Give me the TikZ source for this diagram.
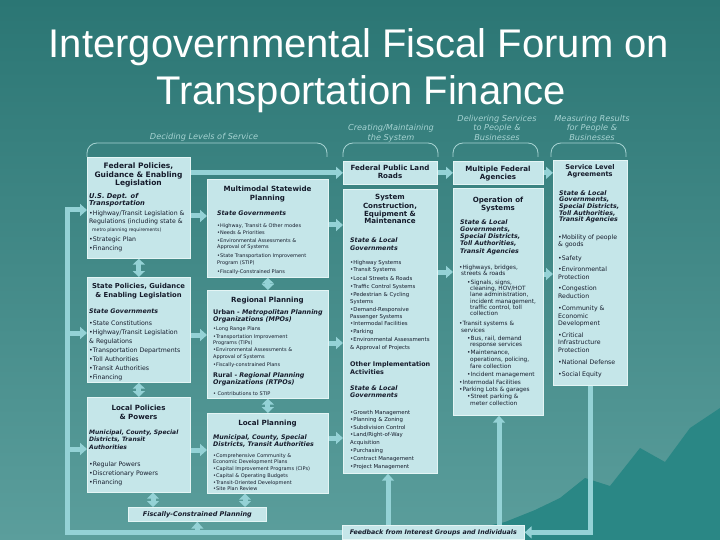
\documentclass[tikz,border=0pt]{standalone}
\usepackage{fontspec}
\setmainfont{DejaVu Sans}
\newfontfamily\titlefont{Liberation Sans}
\usetikzlibrary{arrows.meta}
\definecolor{bgtop}{HTML}{2B7674}
\definecolor{bgbot}{HTML}{5B9E9C}
\definecolor{mount}{HTML}{2A8785}
\definecolor{boxfill}{HTML}{C5E6E9}
\definecolor{boxedge}{HTML}{E4F5F5}
\definecolor{flow}{HTML}{94D2D6}
\definecolor{hdr}{HTML}{A6D3D2}
\definecolor{ink}{HTML}{151B2B}
\newcounter{lnc}
\newcommand\tl[4][]{\stepcounter{lnc}\node[lt,#1] (l\arabic{lnc}) at (#2,#3) {#4};}
\newcommand\bxn[6][]{\node[bx,minimum width={#4-#2},minimum height={#5-#3},#1] (#6) at (#2,#3) {};}
\begin{document}
\begin{tikzpicture}[x=1pt,y=-1pt,
  lt/.style={inner sep=0pt,anchor=base west,text=ink,font=\fontsize{5.8}{6}\selectfont},
  tt/.style={anchor=base,font=\bfseries\fontsize{7.1}{8}\selectfont},
  sh/.style={font=\bfseries\itshape\fontsize{6.3}{7}\selectfont},
  bu/.style={font=\bfseries\fontsize{6.4}{7}\selectfont},
  b6/.style={font=\fontsize{6.2}{7}\selectfont},
  b5/.style={font=\fontsize{5.0}{6}\selectfont},
  b54/.style={font=\fontsize{5.4}{6}\selectfont},
  hd/.style={anchor=base,text=hdr,font=\itshape\fontsize{8.2}{9}\selectfont},
  bx/.style={draw=boxedge,fill=boxfill,line width=0.7pt,inner sep=0pt,anchor=north west},
  brk/.style={draw=hdr,line width=0.8pt,rounded corners=10pt},
  flowline/.style={draw=flow,line width=5pt,line join=miter},
  fa/.style={flowline,-{Triangle[width=12pt,length=7pt]}},
  dba/.style={flowline,{Triangle[width=12pt,length=6pt]}-{Triangle[width=12pt,length=6pt]}},
]
\useasboundingbox (0,0) rectangle (720,540);
\shade[top color=bgtop,bottom color=bgbot] (0,0) rectangle (720,540);
\fill[mount] (430,540) -- (470,530) -- (505,522) -- (535,510) -- (560,498) -- (585,478) -- (610,486) -- (640,448) -- (665,462) -- (690,428) -- (720,408) -- (720,540) -- cycle;

% title
\node[anchor=base,inner sep=0pt,text=white,font=\titlefont\fontsize{40}{40}\selectfont] (title1) at (359,58) {Intergovernmental Fiscal Forum on};
\node[anchor=base,inner sep=0pt,text=white,font=\titlefont\fontsize{40}{40}\selectfont] (title2) at (361,105) {Transportation Finance};

% column headers
\tl[hd]{204}{139.5}{Deciding Levels of Service}
\tl[hd]{391}{130.5}{Creating/Maintaining}
\tl[hd]{391}{140.5}{the System}
\tl[hd]{497}{121.5}{Delivering Services}
\tl[hd]{497}{130.5}{to People \&}
\tl[hd]{497}{140.5}{Businesses}
\tl[hd]{592}{121.5}{Measuring Results}
\tl[hd]{592}{130.5}{for People \&}
\tl[hd]{592}{140.5}{Businesses}
\draw[brk] (87,157) -- (87,143) -- (327,143) -- (327,157);
\draw[brk] (343,157) -- (343,143) -- (438,143) -- (438,157);
\draw[brk] (453,157) -- (453,143) -- (538,143) -- (538,157);
\draw[brk] (551,157) -- (551,143) -- (626,143) -- (626,157);

% boxes
\bxn{87}{157}{190}{258}{fed}
\bxn{87}{277}{190}{382}{st}
\bxn{87}{397}{190}{492}{loc}
\bxn{207}{179}{328}{277}{mm}
\bxn{207}{290}{328}{398}{reg}
\bxn{207}{413}{328}{493}{lp}
\bxn{343}{161}{437}{184}{fplr}
\bxn{343}{189}{437}{473}{sys}
\bxn{453}{161}{543}{184}{mfa}
\bxn{453}{188}{543}{415}{ops}
\bxn{553}{160}{627}{385}{sla}
\node[bx,minimum width=138,minimum height=14,text=ink,font=\bfseries\itshape\fontsize{6.5}{7}\selectfont] (fisc) at (128,507) {Fiscally-Constrained Planning};
\node[bx,minimum width=182,minimum height=14,text=ink,font=\bfseries\itshape\fontsize{6.3}{7}\selectfont] (fb) at (342,525) {Feedback from Interest Groups and Individuals};

% connectors
\coordinate (lb2) at (67,333);
\coordinate (lb3) at (67,449);
\draw[fa] (fb.west) -| (67,210) -- (fed.west |- 0,210);
\draw[fa] (lb2) -- (st.west |- lb2);
\draw[fa] (lb3) -- (loc.west |- lb3);
\draw[fa] (fisc.south |- fb.west) -- (fisc.south);
\draw[fa] (sla.south) |- (fb.east);
\draw[fa] (fb.north -| 388,0) -- (sys.south -| 388,0);
\draw[fa] (fb.north -| 499,0) -- (ops.south -| 499,0);
\draw[dba] (fed.south) -- (st.north);
\draw[dba] (st.south) -- (loc.north);
\draw[dba] (loc.south -| 153,0) -- (fisc.north -| 153,0);
\draw[dba] (mm.south) -- (reg.north);
\draw[dba] (reg.south) -- (lp.north);
\draw[dba] (lp.south -| 245,0) -- (fisc.north -| 245,0);
\draw[fa] (fed.east |- fplr.west) -- (fplr.west);
\draw[fa] (fplr.east) -- (mfa.west);
\draw[fa] (mfa.east) -- (sla.west |- mfa.east);
\draw[fa] (fed.east |- 0,216) -- (mm.west |- 0,216);
\draw[fa] (st.east |- 0,335) -- (reg.west |- 0,335);
\draw[fa] (loc.east |- 0,450) -- (lp.west |- 0,450);
\draw[fa] (mm.east |- 0,225) -- (sys.west |- 0,225);
\draw[fa] (reg.east |- 0,343) -- (sys.west |- 0,343);
\draw[fa] (lp.east |- 0,438) -- (sys.west |- 0,438);
\draw[fa] (sys.east |- 0,272) -- (ops.west |- 0,272);
\draw[fa] (ops.east |- 0,274) -- (sla.west |- 0,274);

% column 1
\tl[tt,font=\bfseries\fontsize{7.5}{8}\selectfont]{138.5}{169}{Federal Policies,}
\tl[tt,font=\bfseries\fontsize{7.5}{8}\selectfont]{138.5}{177.5}{Guidance \& Enabling}
\tl[tt,font=\bfseries\fontsize{7.5}{8}\selectfont]{138.5}{186}{Legislation}
\tl[sh,font=\bfseries\itshape\fontsize{6.7}{7}\selectfont]{89}{199}{U.S. Dept. of}
\tl[sh,font=\bfseries\itshape\fontsize{6.7}{7}\selectfont]{89}{206}{Transportation}
\tl[b6]{89}{215.5}{•Highway/Transit Legislation \&}
\tl[b6]{89}{223.5}{Regulations (including state \&}
\tl[font=\fontsize{4.6}{5}\selectfont]{92}{232}{metro planning requirements)}
\tl[b6]{89}{241}{•Strategic Plan}
\tl[b6]{89}{250}{•Financing}

\tl[tt,font=\bfseries\fontsize{6.8}{8}\selectfont]{138.5}{288}{State Policies, Guidance}
\tl[tt,font=\bfseries\fontsize{6.8}{8}\selectfont]{138.5}{297}{\& Enabling Legislation}
\tl[sh]{89}{313}{State Governments}
\tl[b6]{89}{325}{•State Constitutions}
\tl[b6]{89}{334}{•Highway/Transit Legislation}
\tl[b6]{89}{343}{\& Regulations}
\tl[b6]{89}{352}{•Transportation Departments}
\tl[b6]{89}{361}{•Toll Authorities}
\tl[b6]{89}{370}{•Transit Authorities}
\tl[b6]{89}{379}{•Financing}

\tl[tt]{138.5}{410}{Local Policies}
\tl[tt]{138.5}{419}{\& Powers}
\tl[sh,font=\bfseries\itshape\fontsize{6.0}{7}\selectfont]{89}{434}{Municipal, County, Special}
\tl[sh,font=\bfseries\itshape\fontsize{6.0}{7}\selectfont]{89}{441.5}{Districts, Transit}
\tl[sh,font=\bfseries\itshape\fontsize{6.0}{7}\selectfont]{89}{449}{Authorities}
\tl[b6]{89}{466}{•Regular Powers}
\tl[b6]{89}{475}{•Discretionary Powers}
\tl[b6]{89}{484}{•Financing}

% column 2
\tl[tt]{267.5}{192}{Multimodal Statewide}
\tl[tt]{267.5}{201}{Planning}
\tl[sh]{217}{215}{State Governments}
\tl[b5]{217}{227}{•Highway, Transit \& Other modes}
\tl[b5]{217}{234}{•Needs \& Priorities}
\tl[b5]{217}{242}{•Environmental Assessments \&}
\tl[b5]{217}{248.5}{Approval of Systems}
\tl[b5]{217}{257}{•State Transportation Improvement}
\tl[b5]{217}{264}{Program (STIP)}
\tl[b5]{217}{273}{•Fiscally-Constrained Plans}

\tl[tt]{267.5}{302}{Regional Planning}
\tl[bu]{213}{314}{Urban - \textit{Metropolitan Planning}}
\tl[sh,font=\bfseries\itshape\fontsize{6.4}{7}\selectfont]{213}{321}{Organizations (MPOs)}
\tl[b5]{213}{330}{•Long Range Plans}
\tl[b5]{213}{338}{•Transportation Improvement}
\tl[b5]{213}{344}{Programs (TIPs)}
\tl[b5]{213}{351}{•Environmental Assessments \&}
\tl[b5]{213}{358}{Approval of Systems}
\tl[b5]{213}{366}{•Fiscally-constrained Plans}
\tl[bu]{213}{377}{Rural - \textit{Regional Planning}}
\tl[sh,font=\bfseries\itshape\fontsize{6.4}{7}\selectfont]{213}{384}{Organizations (RTPOs)}
\tl[b5]{213}{395}{• Contributions to STIP}

\tl[tt]{267.5}{425}{Local Planning}
\tl[sh]{213}{439}{Municipal, County, Special}
\tl[sh]{213}{446}{Districts, Transit Authorities}
\tl[b5]{213}{457}{•Comprehensive Community \&}
\tl[b5]{213}{463}{Economic Development Plans}
\tl[b5]{213}{470}{•Capital Improvement Programs (CIPs)}
\tl[b5]{213}{477}{•Capital \& Operating Budgets}
\tl[b5]{213}{484}{•Transit-Oriented Development}
\tl[b5]{213}{490}{•Site Plan Review}

% column 3
\tl[tt]{390}{170.5}{Federal Public Land}
\tl[tt]{390}{178.5}{Roads}
\tl[tt]{390}{200}{System}
\tl[tt]{390}{208}{Construction,}
\tl[tt]{390}{216}{Equipment \&}
\tl[tt]{390}{224}{Maintenance}
\tl[sh]{350}{243}{State \& Local}
\tl[sh]{350}{251}{Governments}
\tl[b54]{350}{264}{•Highway Systems}
\tl[b54]{350}{271.5}{•Transit Systems}
\tl[b54]{350}{280}{•Local Streets \& Roads}
\tl[b54]{350}{288}{•Traffic Control Systems}
\tl[b54]{350}{296}{•Pedestrian \& Cycling}
\tl[b54]{350}{303}{Systems}
\tl[b54]{350}{311}{•Demand-Responsive}
\tl[b54]{350}{318}{Passenger Systems}
\tl[b54]{350}{325}{•Intermodal Facilities}
\tl[b54]{350}{333}{•Parking}
\tl[b54]{350}{341}{•Environmental Assessments}
\tl[b54]{350}{349}{\& Approval of Projects}
\tl[bu]{350}{366.5}{Other Implementation}
\tl[bu]{350}{374.5}{Activities}
\tl[sh]{350}{390.5}{State \& Local}
\tl[sh]{350}{397.5}{Governments}
\tl[b54]{350}{414}{•Growth Management}
\tl[b54]{350}{421}{•Planning \& Zoning}
\tl[b54]{350}{429}{•Subdivision Control}
\tl[b54]{350}{436}{•Land/Right-of-Way}
\tl[b54]{350}{444}{Acquisition}
\tl[b54]{350}{452}{•Purchasing}
\tl[b54]{350}{460}{•Contract Management}
\tl[b54]{350}{468}{•Project Management}

% column 4
\tl[tt]{498}{171.5}{Multiple Federal}
\tl[tt]{498}{179.5}{Agencies}
\tl[tt]{498}{203}{Operation of}
\tl[tt]{498}{211}{Systems}
\tl[sh]{460}{224.5}{State \& Local}
\tl[sh]{460}{231.5}{Governments,}
\tl[sh]{460}{238.5}{Special Districts,}
\tl[sh]{460}{245.5}{Toll Authorities,}
\tl[sh]{460}{253}{Transit Agencies}
\tl{459}{269}{•Highways, bridges,}
\tl{461}{275.5}{streets \& roads}
\tl{467}{284}{•Signals, signs,}
\tl{470}{290}{cleaning, HOV/HOT}
\tl{470}{296.5}{lane administration,}
\tl{470}{303}{incident management,}
\tl{470}{309}{traffic control, toll}
\tl{470}{315.5}{collection}
\tl{459}{325.5}{•Transit systems \&}
\tl{461}{332}{services}
\tl{467}{340}{•Bus, rail, demand}
\tl{470}{346.5}{response services}
\tl{467}{354.5}{•Maintenance,}
\tl{470}{361}{operations, policing,}
\tl{470}{368}{fare collection}
\tl{467}{376}{•Incident management}
\tl{459}{384}{•Intermodal Facilities}
\tl{459}{391}{•Parking Lots \& garages}
\tl{467}{398.5}{•Street parking \&}
\tl{470}{405}{meter collection}

% column 5
\tl[tt,font=\bfseries\fontsize{6.6}{8}\selectfont]{590}{169.5}{Service Level}
\tl[tt,font=\bfseries\fontsize{6.6}{8}\selectfont]{590}{176.5}{Agreements}
\tl[sh]{559}{195.5}{State \& Local}
\tl[sh]{559}{202}{Governments,}
\tl[sh]{559}{208.5}{Special Districts,}
\tl[sh]{559}{215.5}{Toll Authorities,}
\tl[sh]{559}{222}{Transit Agencies}
\tl[b6]{558}{240}{•Mobility of people}
\tl[b6]{558}{247}{\& goods}
\tl[b6]{558}{260}{•Safety}
\tl[b6]{558}{271}{•Environmental}
\tl[b6]{558}{279}{Protection}
\tl[b6]{558}{290}{•Congestion}
\tl[b6]{558}{298}{Reduction}
\tl[b6]{558}{310}{•Community \&}
\tl[b6]{558}{318}{Economic}
\tl[b6]{558}{325}{Development}
\tl[b6]{558}{337}{•Critical}
\tl[b6]{558}{344}{Infrastructure}
\tl[b6]{558}{352}{Protection}
\tl[b6]{558}{364}{•National Defense}
\tl[b6]{558}{376}{•Social Equity}
\end{tikzpicture}
\end{document}
